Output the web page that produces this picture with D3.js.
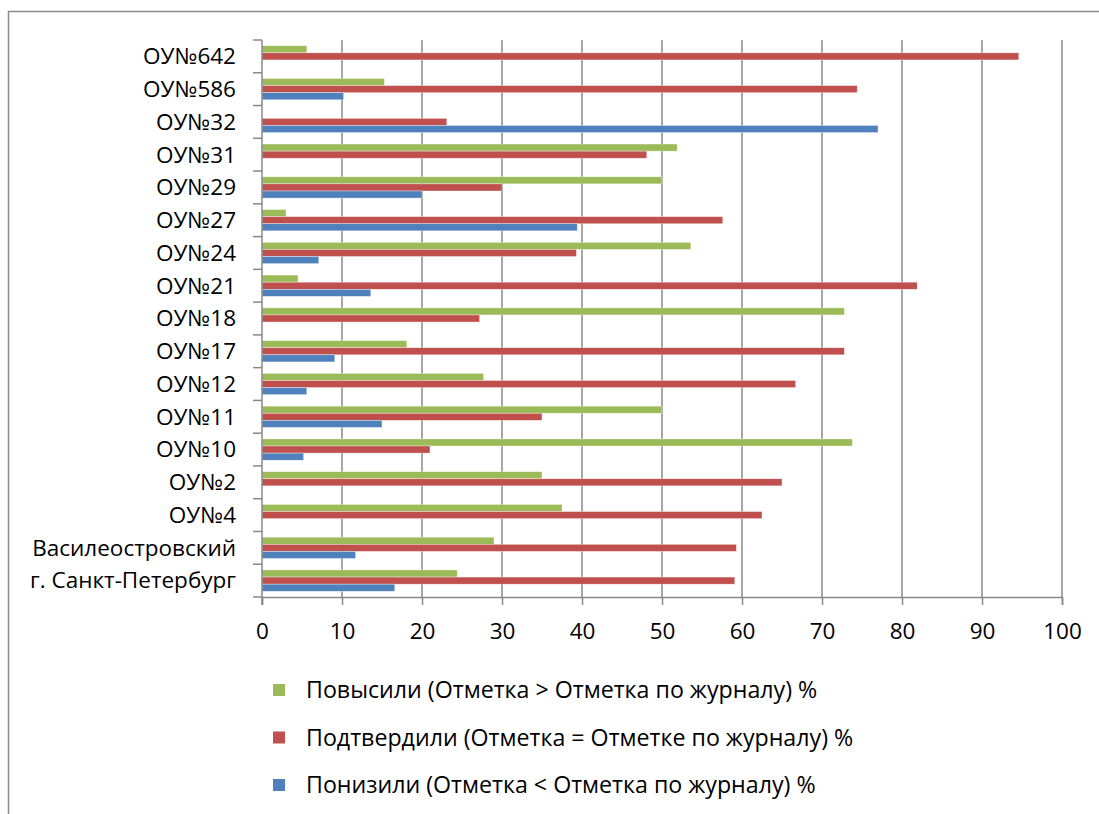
<!DOCTYPE html>
<html><head><meta charset="utf-8">
<script src="https://cdn.jsdelivr.net/npm/d3@7"></script>
<style>
html,body{margin:0;padding:0;background:#fff;}
svg{display:block;}
text{font-family:"Open Sans","Noto Sans",sans-serif;fill:#000;}
</style></head>
<body>
<svg id="chart" width="1099" height="814"></svg>
<script>
const categories = ["ОУ№642","ОУ№586","ОУ№32","ОУ№31","ОУ№29","ОУ№27","ОУ№24","ОУ№21","ОУ№18","ОУ№17","ОУ№12","ОУ№11","ОУ№10","ОУ№2","ОУ№4","Василеостровский","г. Санкт-Петербург"];
const raised    = [5.6,15.3,0,51.9,50.0,3.0,53.6,4.5,72.8,18.1,27.7,50.0,73.8,35.0,37.5,29.0,24.4];
const confirmed = [94.6,74.4,23.1,48.1,30.0,57.6,39.3,81.9,27.2,72.8,66.7,35.0,21.0,65.0,62.5,59.3,59.1];
const lowered   = [0,10.2,77.0,0,20.0,39.4,7.1,13.6,0,9.1,5.6,15.0,5.2,0,0,11.7,16.6];
const seriesNames = ["Повысили (Отметка > Отметка по журналу) %","Подтвердили (Отметка = Отметке по журналу) %","Понизили (Отметка < Отметка по журналу) %"];
const seriesColors = ["#9BBB59","#C0504D","#4F81BD"];
const xTicks = [0,10,20,30,40,50,60,70,80,90,100];

(function(){
const series = [raised, confirmed, lowered];
const svg = d3.select("#chart");

svg.append("rect").attr("x",8.5).attr("y",11.5).attr("width",1200).attr("height",900)
  .attr("fill","none").attr("stroke","#8c8c8c").attr("stroke-width",1.5);

const pl = 262, pr = 1062, pt = 40, pb = 597;
const x = d3.scaleLinear().domain([0,100]).range([pl,pr]);
const y = d3.scaleBand().domain(categories).range([pt,pb]).paddingInner(0.35).paddingOuter(0.175);
const ySub = d3.scaleBand().domain([0,1,2]).range([0,y.bandwidth()]);

svg.append("g").selectAll("line").data(xTicks.slice(1)).join("line")
  .attr("x1",d=>x(d)).attr("x2",d=>x(d)).attr("y1",pt).attr("y2",pb)
  .attr("stroke","#888").attr("stroke-width",1.5);

const groups = svg.append("g").selectAll("g").data(categories).join("g")
  .attr("transform",c=>`translate(0,${y(c)})`);
groups.selectAll("rect").data((c,i)=>series.map((s,k)=>({k,v:s[i]})).filter(d=>d.v>0)).join("rect")
  .attr("x",x(0)).attr("y",d=>ySub(d.k)).attr("width",d=>x(d.v)-x(0)).attr("height",ySub.bandwidth())
  .attr("fill",d=>seriesColors[d.k]).attr("stroke","#fff").attr("stroke-opacity",0.6).attr("stroke-width",0.6);

const yAxisScale = d3.scaleLinear().domain([0,categories.length]).range([pt,pb]);
const yax = svg.append("g");
yax.append("line").attr("x1",pl).attr("x2",pl).attr("y1",pt).attr("y2",pb+8).attr("stroke","#888").attr("stroke-width",1.5);
yax.selectAll("line.t").data(d3.range(categories.length+1)).join("line").attr("class","t")
  .attr("x1",pl-9).attr("x2",pl).attr("y1",d=>yAxisScale(d)).attr("y2",d=>yAxisScale(d))
  .attr("stroke","#888").attr("stroke-width",1.5);
yax.selectAll("text").data(categories).join("text")
  .attr("x",236).attr("y",c=>y(c)+y.bandwidth()/2)
  .attr("dy","0.35em").attr("text-anchor","end").attr("font-size",22.5).text(c=>c);

const xax = svg.append("g").attr("transform",`translate(0,${pb})`)
  .call(d3.axisBottom(x).tickValues(xTicks).tickSize(8).tickPadding(18).tickFormat(d3.format("d")));
xax.select(".domain").attr("stroke","#888").attr("stroke-width",1.5);
xax.selectAll(".tick line").attr("stroke","#888").attr("stroke-width",1.5);
xax.selectAll(".tick text").attr("font-size",22.5).attr("font-family","Open Sans, Noto Sans, sans-serif").attr("fill","#000");

const leg = svg.append("g").selectAll("g").data(seriesNames).join("g")
  .attr("transform",(d,i)=>`translate(273,${690+i*47.5})`);
leg.append("rect").attr("x",0).attr("y",-6).attr("width",12).attr("height",12).attr("fill",(d,i)=>seriesColors[i]);
leg.append("text").attr("x",33).attr("y",0).attr("dy","0.35em").attr("font-size",23.2).text(d=>d);
})();
</script>
</body></html>
